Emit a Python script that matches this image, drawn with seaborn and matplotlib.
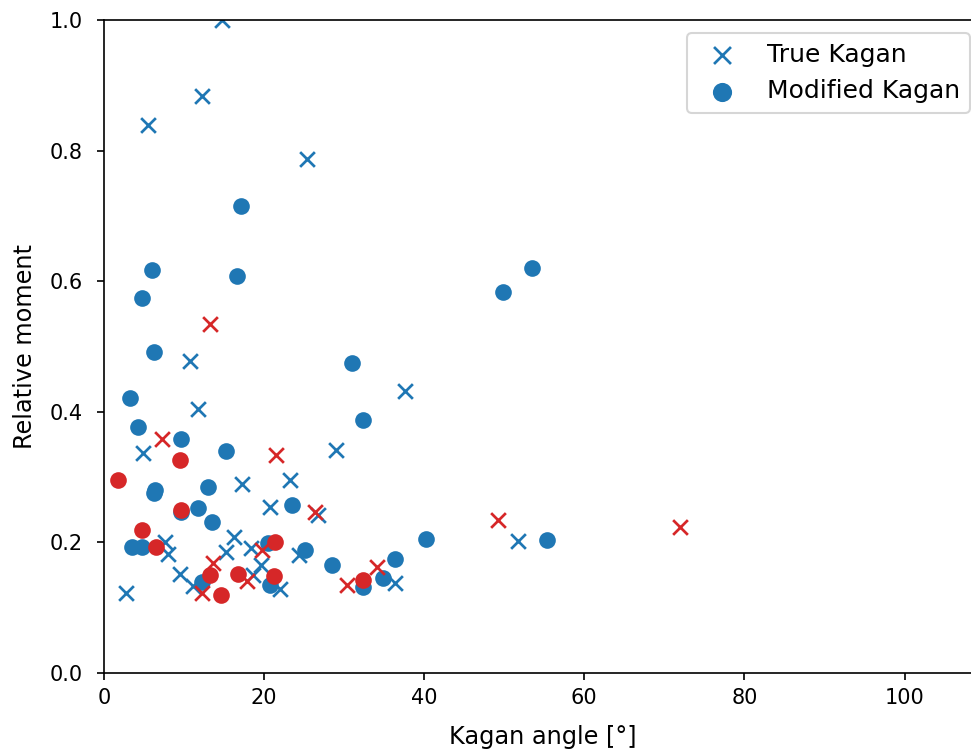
import matplotlib
matplotlib.use("Agg")
import matplotlib.pyplot as plt
import seaborn as sns

# True Kagan (blue, x)
true_blue_angle = [14.8, 12.2, 5.5, 25.4, 10.75, 37.6, 11.75, 29.0, 4.9, 23.3,
                   17.2, 20.75, 26.75, 51.75, 16.2, 15.3, 18.4, 19.6, 24.4, 36.4,
                   22.0, 18.6, 2.8, 7.6, 8.0, 9.5, 11.1]
true_blue_moment = [1.0, 0.884, 0.840, 0.788, 0.478, 0.432, 0.404, 0.341, 0.337, 0.295,
                    0.289, 0.255, 0.242, 0.202, 0.209, 0.186, 0.192, 0.165, 0.180, 0.138,
                    0.129, 0.150, 0.122, 0.200, 0.182, 0.151, 0.134]

# Modified Kagan (blue, o)
mod_blue_angle = [17.1, 6.0, 16.6, 4.7, 6.25, 3.3, 4.2, 9.6, 15.2, 31.0,
                  32.4, 49.8, 53.5, 55.3, 40.25, 36.3, 34.9, 32.3, 28.5, 25.1,
                  23.5, 13.0, 13.5, 11.7, 6.4, 6.2, 9.6, 3.5, 4.8, 12.3,
                  20.75, 20.5]
mod_blue_moment = [0.716, 0.618, 0.608, 0.575, 0.492, 0.421, 0.377, 0.358, 0.340, 0.475,
                   0.387, 0.583, 0.621, 0.203, 0.206, 0.174, 0.146, 0.131, 0.165, 0.188,
                   0.257, 0.285, 0.232, 0.252, 0.281, 0.275, 0.247, 0.193, 0.193, 0.140,
                   0.135, 0.199]

# True Kagan (red, x)
true_red_angle = [13.3, 7.3, 21.5, 26.4, 49.2, 71.9, 30.3, 34.1, 19.8, 13.6, 12.3, 17.9]
true_red_moment = [0.534, 0.358, 0.334, 0.247, 0.235, 0.223, 0.135, 0.162, 0.189, 0.168, 0.122, 0.141]

# Modified Kagan (red, o)
mod_red_angle = [1.75, 9.5, 4.7, 6.5, 9.6, 21.4, 13.3, 14.6, 16.7, 21.25, 32.3]
mod_red_moment = [0.295, 0.326, 0.219, 0.193, 0.250, 0.201, 0.150, 0.120, 0.152, 0.148, 0.142]

BLUE = "#1f77b4"
RED = "#d62728"

plt.rcParams["font.size"] = 10
fig, ax = plt.subplots(figsize=(971 / 150, 749 / 150), dpi=150)
fig.subplots_adjust(left=0.107, right=1.012, top=0.973, bottom=0.1015)

sns.scatterplot(x=true_blue_angle, y=true_blue_moment, marker="x", color=BLUE,
                s=50, linewidth=1.3, ax=ax, label="True Kagan")
sns.scatterplot(x=mod_blue_angle, y=mod_blue_moment, marker="o", color=BLUE,
                s=64, linewidth=0, ax=ax, label="Modified Kagan")
sns.scatterplot(x=true_red_angle, y=true_red_moment, marker="x", color=RED,
                s=50, linewidth=1.3, ax=ax)
sns.scatterplot(x=mod_red_angle, y=mod_red_moment, marker="o", color=RED,
                s=64, linewidth=0, ax=ax)

ax.set_xlim(0, 109.75)
ax.set_ylim(0, 1.0)
ax.tick_params(axis="y", pad=6.8)
ax.set_xlabel("Kagan angle [°]", fontsize=11.5, labelpad=8.5)
ax.set_ylabel("Relative moment", fontsize=11.5, labelpad=6)
ax.legend(loc="upper right", fontsize=12, markerscale=1.15)

fig.savefig("out.png", dpi=150)
